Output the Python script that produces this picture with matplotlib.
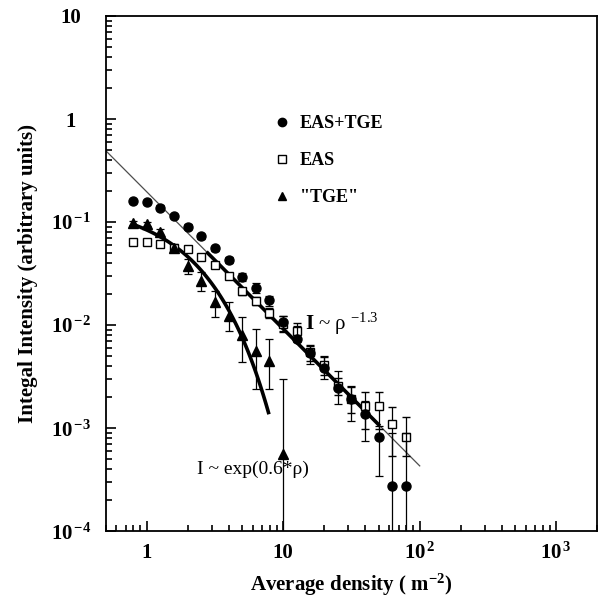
import numpy as np
import matplotlib
matplotlib.use("Agg")
from matplotlib import pyplot as plt
from matplotlib.lines import Line2D

plt.rcParams["font.family"] = ["Liberation Serif", "DejaVu Serif"]
plt.rcParams["font.weight"] = "bold"
plt.rcParams["mathtext.fontset"] = "custom"
plt.rcParams["mathtext.rm"] = "Liberation Serif:normal"
plt.rcParams["mathtext.it"] = "Liberation Serif:italic:normal"
plt.rcParams["mathtext.bf"] = "Liberation Serif:bold"

# average density (m^-2)
density = [0.8, 1.0, 1.26, 1.58, 2.0, 2.5, 3.16, 4.0, 5.0, 6.3, 7.9,
           10, 12.6, 15.8, 20, 25, 31.6, 40, 50, 63, 79]

# EAS+TGE (filled circles)
eas_tge = [0.159, 0.157, 0.138, 0.115, 0.0906, 0.0730, 0.0555, 0.0428, 0.0293, 0.0231, 0.0175,
           0.0107, 0.00741, 0.00534, 0.00380, 0.00247, 0.00190, 0.00136, 0.000817, 0.000274, 0.000274]
eas_tge_lo = [0.152, 0.150, 0.131, 0.109, 0.086, 0.069, 0.052, 0.040, 0.027, 0.0206, 0.0154,
              0.0088, 0.0068, 0.0042, 0.0030, 0.0017, 0.00118, 0.000755, 0.000347, 1e-5, 1e-5]
eas_tge_hi = [0.166, 0.164, 0.145, 0.121, 0.095, 0.077, 0.059, 0.046, 0.032, 0.0258, 0.0192,
              0.0123, 0.0098, 0.0063, 0.0050, 0.0036, 0.00258, 0.00185, 0.00105, 0.0009, 0.0009]

# EAS (open squares)
eas = [0.0639, 0.0639, 0.0607, 0.0564, 0.0543, 0.0462, 0.0383, 0.0299, 0.0213, 0.0171, 0.0132,
       0.0102, 0.00879, 0.00543, 0.00409, 0.00258, 0.00192, 0.00165, 0.00165, 0.00110, 0.000817]
eas_lo = [0.061, 0.061, 0.058, 0.054, 0.052, 0.044, 0.036, 0.028, 0.0198, 0.0157, 0.0118,
          0.0085, 0.0073, 0.0045, 0.0033, 0.0021, 0.0014, 0.00098, 0.00098, 0.000542, 0.000542]
eas_hi = [0.067, 0.067, 0.064, 0.059, 0.057, 0.049, 0.041, 0.032, 0.0228, 0.0186, 0.0147,
          0.0122, 0.0105, 0.0064, 0.0049, 0.0031, 0.0025, 0.00223, 0.00223, 0.00159, 0.00128]

# "TGE" (filled triangles)
tge_density = [0.8, 1.0, 1.26, 1.58, 2.0, 2.5, 3.16, 4.0, 5.0, 6.3, 7.9, 10]
tge = [0.0985, 0.0963, 0.0798, 0.0564, 0.0374, 0.0268, 0.0166, 0.0123, 0.00798, 0.00559, 0.00450, 0.000563]
tge_lo = [0.094, 0.092, 0.075, 0.052, 0.0311, 0.0214, 0.0119, 0.00879, 0.00435, 0.00239, 0.00239, 1e-5]
tge_hi = [0.103, 0.101, 0.085, 0.061, 0.0434, 0.0325, 0.0214, 0.0166, 0.0119, 0.00912, 0.00741, 0.00299]

# fits
pow_amp, pow_index = 0.197, -1.33
pow_range = (0.5, 100)
pow_fit_range = (2.8, 50)
exp_amp, exp_rate = 0.153, 0.6
exp_range = (0.8, 7.8)


def bars(y, lo, hi):
    y = np.array(y)
    return [y - np.array(lo), np.array(hi) - y]


fig = plt.figure(figsize=(6, 6.08), dpi=100)
ax = fig.add_axes([0.176, 0.1262, 0.8195, 0.8475])
ax.set_xscale("log")
ax.set_yscale("log")

# power-law line, thin over the whole range and thick over the fitted part
xp = np.logspace(np.log10(pow_range[0]), np.log10(pow_range[1]), 50)
ax.plot(xp, pow_amp * xp ** pow_index, color="0.3", lw=0.9, zorder=2)
xpf = np.logspace(np.log10(pow_fit_range[0]), np.log10(pow_fit_range[1]), 50)
ax.plot(xpf, pow_amp * xpf ** pow_index, color="black", lw=2.6, zorder=2)

# exponential fit
xe = np.linspace(exp_range[0], exp_range[1], 100)
ax.plot(xe, exp_amp * np.exp(-exp_rate * xe), color="black", lw=2.6, zorder=2)

ekw = dict(ecolor="black", elinewidth=0.9, capsize=3.2, capthick=0.9, linestyle="none")
ax.errorbar(density, eas, yerr=bars(eas, eas_lo, eas_hi), fmt="s", ms=6, mfc="white",
            mec="black", mew=1.0, zorder=3, **ekw)
ax.errorbar(density, eas_tge, yerr=bars(eas_tge, eas_tge_lo, eas_tge_hi), fmt="o", ms=6.5,
            color="black", zorder=4, **ekw)
ax.errorbar(tge_density, tge, yerr=bars(tge, tge_lo, tge_hi), fmt="^", ms=6.5,
            color="black", zorder=4, **ekw)

ax.set_xlim(0.5, 2000)
ax.set_ylim(1e-4, 10)

xticks = [1, 10, 100, 1000]
xlabels = ["1", "10", r"10$^{\,\mathbf{2}}$", r"10$^{\,\mathbf{3}}$"]
ax.set_xticks(xticks)
ax.set_xticklabels(xlabels, fontsize=15, fontweight="bold", va="baseline")
yticks = [1e-4, 1e-3, 1e-2, 1e-1, 1, 10]
ylabels = [r"10$^{\,\mathbf{-4}}$", r"10$^{\,\mathbf{-3}}$", r"10$^{\,\mathbf{-2}}$",
           r"10$^{\,\mathbf{-1}}$", "1", "10"]
ax.set_yticks(yticks)
ax.set_yticklabels(ylabels, fontsize=15, fontweight="bold", ha="center", va="center_baseline")

ax.tick_params(which="both", direction="in", top=False, right=False, width=1.2, color="black")
ax.tick_params(which="major", length=7)
ax.tick_params(which="minor", length=4.3)
ax.tick_params(axis="x", pad=19.5)
ax.tick_params(axis="y", pad=25)
for s in ax.spines.values():
    s.set_linewidth(1.3)

ax.set_xlabel(r"Average density ( m$^{\mathbf{-2}}$)", fontsize=15, fontweight="bold", labelpad=6)
ax.set_ylabel("Integal Intensity (arbitrary units)", fontsize=15, fontweight="bold", labelpad=9)

ax.text(14.5, 0.0102, r"$\mathbf{I}$ ~ ρ $^{-1.3}$", fontsize=15, fontweight="normal",
        va="center", ha="left")
ax.text(2.34, 0.0004, "I ~ exp(0.6*ρ)", fontsize=14, fontweight="normal", va="center", ha="left")

handles = [Line2D([], [], marker="o", ls="none", color="black", ms=6),
           Line2D([], [], marker="s", ls="none", mfc="white", mec="black", ms=6),
           Line2D([], [], marker="^", ls="none", color="black", ms=6)]
ax.legend(handles, ["EAS+TGE", "EAS", '"TGE"'], loc="upper left", bbox_to_anchor=(0.340, 0.807),
          frameon=False, borderaxespad=0, borderpad=0, handlelength=1.0, handletextpad=0.5,
          labelspacing=1.1, prop=dict(size=13, weight="bold"))

fig.savefig("out.png", dpi=100)
